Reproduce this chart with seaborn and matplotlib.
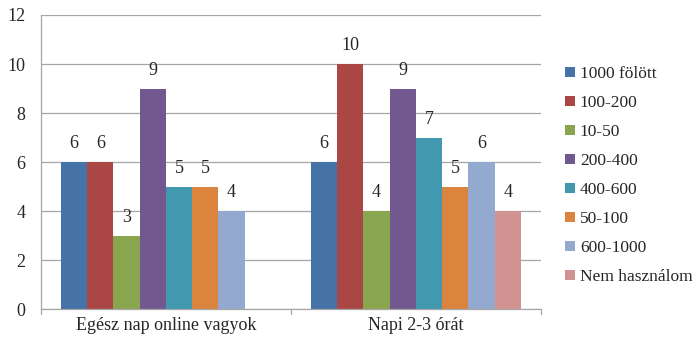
import matplotlib
matplotlib.use("Agg")
import matplotlib.pyplot as plt
from matplotlib.patches import Patch
import seaborn as sns
import pandas as pd
import numpy as np

categories = ["Egész nap online vagyok", "Napi 2-3 órát"]
series = ["1000 fölött", "100-200", "10-50", "200-400", "400-600",
          "50-100", "600-1000", "Nem használom"]
values_day = [6, 6, 3, 9, 5, 5, 4, np.nan]
values_2_3 = [6, 10, 4, 9, 7, 5, 6, 4]
colors = ["#4572A7", "#AA4643", "#89A54E", "#71588F", "#4198AF",
          "#DB843D", "#93A9CF", "#D19392"]
y_ticks = [0, 2, 4, 6, 8, 10, 12]

rows = []
for cat, vals in zip(categories, [values_day, values_2_3]):
    for s, v in zip(series, vals):
        rows.append({"cat": cat, "series": s, "value": v})
df = pd.DataFrame(rows)

sns.set_theme(style="white")
plt.rcParams["font.family"] = ["Liberation Serif", "DejaVu Serif"]

FS = 13
fig = plt.figure(figsize=(6.98, 3.37), dpi=100)
ax = fig.add_axes([0.0587, 0.083, 0.7163, 0.8725])

sns.barplot(data=df, x="cat", y="value", hue="series", hue_order=series,
            order=categories, palette=colors, width=0.84, saturation=1,
            edgecolor="none", linewidth=0, legend=False, ax=ax)

ax.set_ylim(0, 12)
ax.set_xlim(-0.5, 1.5)
ax.set_yticks(y_ticks)
ax.set_yticklabels([str(t) for t in y_ticks], fontsize=FS)
ax.yaxis.grid(True, color="#A6A6A6", linewidth=0.9)
ax.set_axisbelow(True)
ax.set_xlabel("")
ax.set_ylabel("")
ax.tick_params(axis="x", length=0, labelsize=FS, pad=6)
ax.tick_params(axis="y", length=5, color="#A6A6A6", width=0.9, pad=6)
for side in ["top", "right"]:
    ax.spines[side].set_visible(False)
for side in ["left", "bottom"]:
    ax.spines[side].set_color("#A6A6A6")
    ax.spines[side].set_linewidth(0.9)

# category boundary ticks on the x axis
for xb in [-0.5, 0.5, 1.5]:
    ax.plot([xb, xb], [0, -0.22], color="#A6A6A6", linewidth=0.9,
            clip_on=False)

# value labels above bars
for container in ax.containers:
    for bar in container:
        h = bar.get_height()
        if np.isnan(h) or h == 0:
            continue
        ax.annotate(f"{h:g}", (bar.get_x() + bar.get_width() / 2, h),
                    xytext=(0, 7), textcoords="offset points",
                    ha="center", va="bottom", fontsize=FS)

handles = [Patch(facecolor=c, edgecolor="none") for c in colors]
fig.legend(handles, series, loc="upper left", bbox_to_anchor=(0.7995, 0.825),
           frameon=False, fontsize=12.5, handlelength=0.55, handleheight=0.55,
           handletextpad=0.3, labelspacing=0.75, borderaxespad=0)

fig.savefig("out.png", dpi=100)
